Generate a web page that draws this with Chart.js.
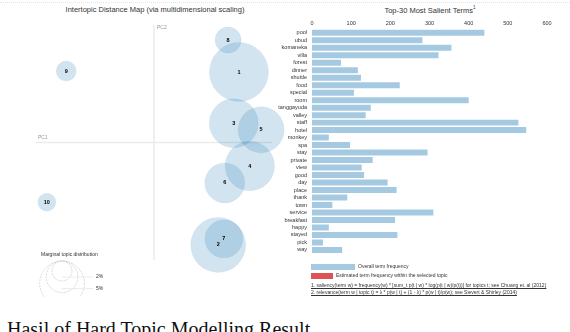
<!DOCTYPE html>
<html>
<head>
<meta charset="utf-8">
<script src="https://cdn.jsdelivr.net/npm/chart.js@4.4.0/dist/chart.umd.min.js"></script>
<style>
  body { margin: 0; width: 570px; height: 332px; overflow: hidden; background: #fff; font-family: "Liberation Sans", Arial, sans-serif; position: relative; }
  canvas { position: absolute; }
  .t { position: absolute; white-space: nowrap; color: #333; }
  .small { font-size: 5px; color: #333; position: absolute; white-space: nowrap; }
  .sw { position: absolute; }
</style>
</head>
<body>
<div style="position:absolute;left:0;top:2px;width:570px;border-top:1px dotted #e4e4e4;"></div>
<div class="t" style="left:0;width:310px;text-align:center;top:5px;font-size:7.5px;">Intertopic Distance Map (via multidimensional scaling)</div>
<div class="t" style="left:340px;width:180px;text-align:center;top:5px;font-size:7.5px;">Top-30 Most Salient Terms<sup style="font-size:4.5px">1</sup></div>

<canvas id="mds" width="290" height="297" style="left:0;top:0;"></canvas>
<canvas id="terms" width="320" height="262" style="left:250px;top:0;"></canvas>

<div class="sw" style="left:311px;top:264px;width:44px;height:6px;background:rgba(31,119,180,0.4);"></div>
<div class="small" style="left:358px;top:263px;">Overall term frequency</div>
<div class="sw" style="left:311px;top:273px;width:22px;height:6px;background:rgba(214,39,40,0.8);"></div>
<div class="small" style="left:336px;top:272px;">Estimated term frequency within the selected topic</div>
<div class="small" style="left:311px;top:282px;text-decoration:underline;">1. saliency(term w) = frequency(w) * [sum_t p(t | w) * log(p(t | w)/p(t))] for topics t; see Chuang et. al (2012)</div>
<div class="small" style="left:311px;top:289px;text-decoration:underline;">2. relevance(term w | topic t) = &lambda; * p(w | t) + (1 - &lambda;) * p(w | t)/p(w); see Sievert &amp; Shirley (2014)</div>

<div class="small" style="left:41px;top:251px;">Marginal topic distribution</div>

<div style="position:absolute;left:7px;top:318px;font-family:'Liberation Serif','Times New Roman',serif;font-size:20px;color:#111;white-space:nowrap;">Hasil of Hard Topic Modelling Result</div>

<script>
// topics (intertopic distance map)
const topics = ['1', '2', '3', '4', '5', '6', '7', '8', '9', '10'];
const pc1 = [0.180, 0.136, 0.169, 0.203, 0.227, 0.150, 0.148, 0.157, -0.186, -0.227];
const pc2 = [0.150, -0.218, 0.041, -0.050, 0.027, -0.086, -0.205, 0.218, 0.152, -0.127];
const share = [17.4, 15.1, 12.0, 12.2, 10.6, 8.0, 7.2, 3.4, 2.0, 1.6]; // % of tokens
const legendShares = [2, 5, 10];

// top-30 salient terms
const terms = ['pool', 'ubud', 'komaneka', 'villa', 'forest', 'dinner', 'shuttle', 'food', 'special', 'room',
  'tanggayuda', 'valley', 'staff', 'hotel', 'monkey', 'spa', 'stay', 'private', 'view', 'good',
  'day', 'place', 'thank', 'town', 'service', 'breakfast', 'happy', 'stayed', 'pick', 'way'];
const termFreq = [440, 282, 356, 323, 74, 117, 125, 224, 107, 400,
  150, 137, 527, 547, 43, 97, 295, 155, 127, 133,
  193, 216, 90, 52, 310, 212, 43, 218, 28, 77];
const freqTicks = [0, 100, 200, 300, 400, 500, 600];

const rScale = 7.07; // px per sqrt(%)

const mdsDecor = {
  id: 'mdsDecor',
  beforeDatasetsDraw(chart) {
    const ctx = chart.ctx;
    const x = chart.scales.x, y = chart.scales.y;
    const x0 = x.getPixelForValue(0), y0 = y.getPixelForValue(0);
    ctx.save();
    ctx.strokeStyle = '#ececec';
    ctx.lineWidth = 1.5;
    ctx.beginPath();
    ctx.moveTo(x.left, y0); ctx.lineTo(x.right, y0);
    ctx.moveTo(x0, y.top); ctx.lineTo(x0, y.bottom);
    ctx.stroke();
    ctx.fillStyle = '#999';
    ctx.font = '5px "Liberation Sans", Arial';
    ctx.textBaseline = 'bottom';
    ctx.fillText('PC1', x.left + 2, y0 - 2);
    ctx.textBaseline = 'top';
    ctx.fillText('PC2', x0 + 3, y.top);
    ctx.restore();
  },
  afterDatasetsDraw(chart) {
    const ctx = chart.ctx;
    const meta = chart.getDatasetMeta(0);
    ctx.save();
    ctx.fillStyle = '#000';
    ctx.font = 'bold 5.5px "Liberation Sans", Arial';
    ctx.textAlign = 'center';
    ctx.textBaseline = 'middle';
    meta.data.forEach((pt, i) => {
      ctx.fillText(topics[i], pt.x, pt.y);
    });
    // marginal topic distribution legend
    const cx = 62, top = 261;
    ctx.strokeStyle = '#c8c8c8';
    ctx.lineWidth = 0.7;
    ctx.setLineDash([2, 1]);
    legendShares.forEach(s => {
      const r = rScale * Math.sqrt(s);
      ctx.beginPath();
      ctx.arc(cx, top + r, r, 0, Math.PI * 2);
      ctx.stroke();
    });
    ctx.setLineDash([]);
    ctx.strokeStyle = '#e2e2e2';
    ctx.fillStyle = '#333';
    ctx.font = '5px "Liberation Sans", Arial';
    ctx.textAlign = 'left';
    legendShares.forEach(s => {
      const r = rScale * Math.sqrt(s);
      const ly = top + 2 * r - 4;
      ctx.beginPath();
      ctx.moveTo(cx, ly); ctx.lineTo(93, ly);
      ctx.stroke();
      ctx.fillText(s + '%', 96, ly);
    });
    ctx.restore();
  }
};

new Chart(document.getElementById('mds'), {
  type: 'bubble',
  data: {
    datasets: [{
      data: topics.map((t, i) => ({ x: pc1[i], y: pc2[i], r: rScale * Math.sqrt(share[i]) })),
      backgroundColor: 'rgba(31,119,180,0.2)',
      borderColor: 'rgba(31,119,180,0.12)',
      borderWidth: 0.5,
      clip: false
    }]
  },
  options: {
    responsive: false,
    animation: false,
    layout: { autoPadding: false, padding: { left: 36, right: 18, top: 25, bottom: 37 } },
    plugins: { legend: { display: false }, tooltip: { enabled: false } },
    scales: {
      x: { display: false, min: -0.25, max: 0.25 },
      y: { display: false, min: -0.25, max: 0.25 }
    }
  },
  plugins: [mdsDecor]
});

new Chart(document.getElementById('terms'), {
  type: 'bar',
  data: {
    labels: terms,
    datasets: [{
      data: termFreq,
      backgroundColor: 'rgba(31,119,180,0.4)',
      borderWidth: 0,
      barPercentage: 0.8,
      categoryPercentage: 1
    }]
  },
  options: {
    indexAxis: 'y',
    responsive: false,
    animation: false,
    layout: { padding: { left: 0, right: 23, top: 16, bottom: 6 } },
    plugins: { legend: { display: false }, tooltip: { enabled: false } },
    scales: {
      x: {
        position: 'top',
        min: 0, max: 600,
        afterBuildTicks(s) { s.ticks = freqTicks.map(v => ({ value: v })); },
        afterFit(s) { s.height = 13; },
        grid: { display: false, drawTicks: false },
        border: { display: false },
        ticks: { color: '#333', font: { size: 5.5, family: '"Liberation Sans", Arial' }, padding: 2 },
      },
      y: {
        afterFit(s) { s.width = 62; },
        grid: { display: false, drawTicks: false },
        border: { display: false },
        ticks: { color: '#333', font: { size: 5.5, family: '"Liberation Sans", Arial' }, padding: 5, autoSkip: false }
      }
    }
  }
});
</script>
</body>
</html>
